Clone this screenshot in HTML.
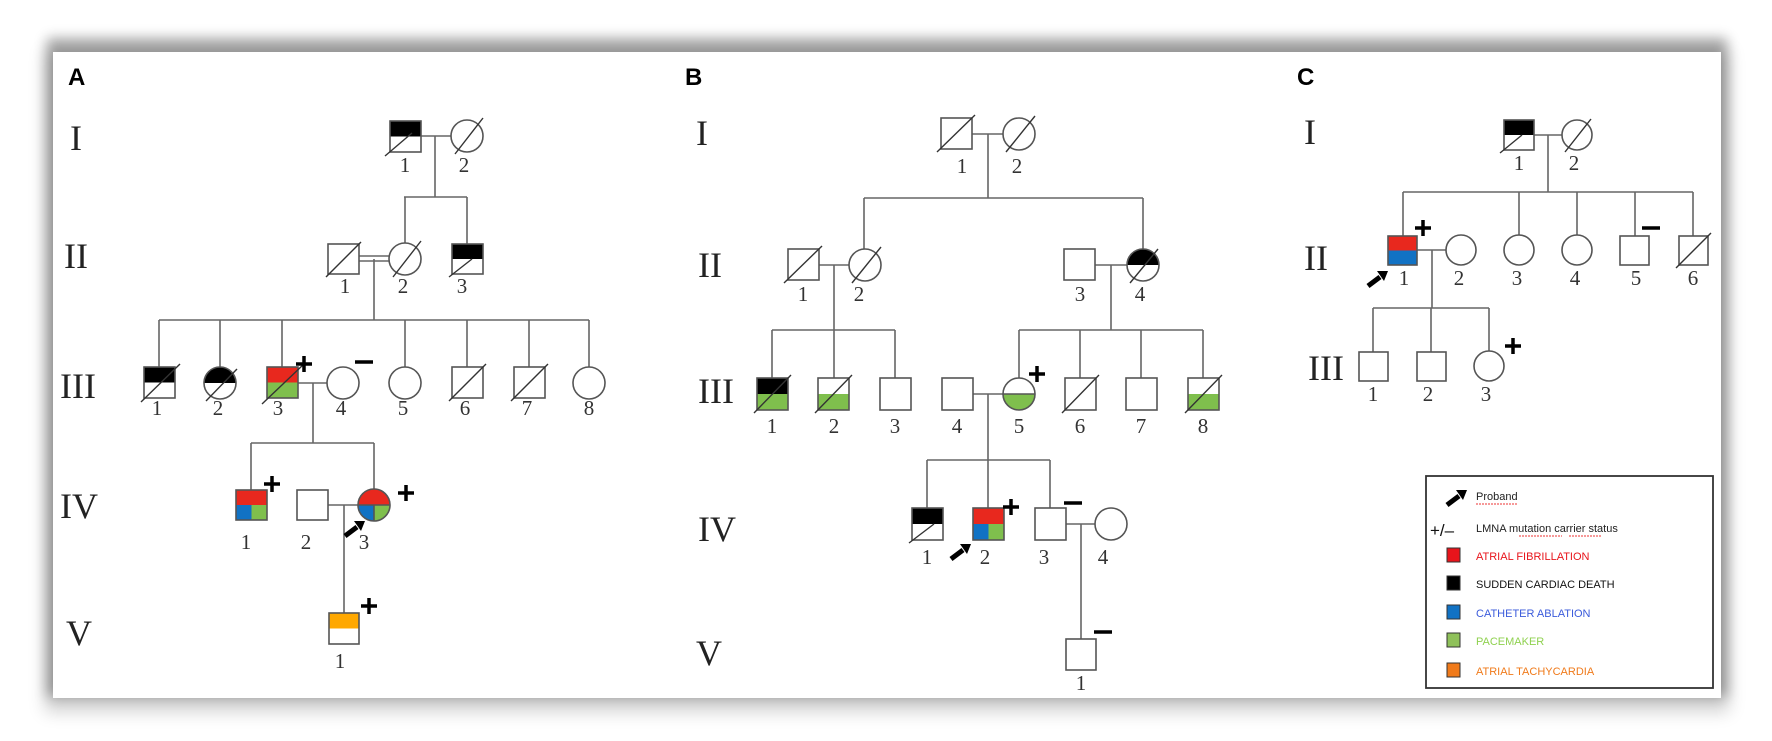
<!DOCTYPE html>
<html><head><meta charset="utf-8"><style>
html,body{margin:0;padding:0;background:#fff;width:1772px;height:741px;overflow:hidden}
#frame{position:absolute;left:53px;top:52px;width:1668px;height:646px;background:#fff;box-shadow:0 -8px 12px 6px rgba(0,0,0,.33),0 6px 16px 8px rgba(0,0,0,.18)}
svg{position:absolute;left:0;top:0}
.ln{stroke:#666;stroke-width:1.6;fill:none}
.sh{stroke:#555;stroke-width:1.6;fill:none}
.sl{stroke:#333;stroke-width:1.4}
.rn{font-family:"Liberation Serif",serif;font-size:36px;fill:#222}
.nm{font-family:"Liberation Serif",serif;font-size:21px;fill:#333;text-anchor:middle}
.pl{stroke:#000;stroke-width:3.5}
.lab{font-family:"Liberation Sans",sans-serif;font-weight:bold;font-size:24px}
.lg{font-family:"Liberation Sans",sans-serif;font-size:11px}
</style></head><body>
<div id="frame"></div>
<svg width="1772" height="741" viewBox="0 0 1772 741" xmlns="http://www.w3.org/2000/svg">
<defs>
<g id="pl"><line class="pl" x1="-8" y1="0" x2="8" y2="0"/><line class="pl" x1="0" y1="-8" x2="0" y2="8"/></g>
<g id="mi"><line class="pl" x1="-9" y1="0" x2="9" y2="0"/></g>
<g id="ar"><line x1="0" y1="0" x2="12" y2="-9" stroke="#000" stroke-width="5"/><polygon points="9,-15 20,-15 16,-5" fill="#000"/></g>
</defs>
<text class="lab" x="68" y="85">A</text>
<text class="lab" x="685" y="85">B</text>
<text class="lab" x="1297" y="85">C</text>

<!-- Panel A -->
<text class="rn" x="70" y="150">I</text>
<text class="rn" x="64" y="268">II</text>
<text class="rn" x="60" y="398">III</text>
<text class="rn" x="60" y="518">IV</text>
<text class="rn" x="66" y="645">V</text>
<g class="ln">
<line x1="421" y1="136" x2="451" y2="136"/><line x1="435" y1="136" x2="435" y2="197"/>
<line x1="404" y1="197" x2="467" y2="197"/><line x1="405" y1="197" x2="405" y2="243"/><line x1="467" y1="197" x2="467" y2="244"/>
<line x1="359" y1="256" x2="389" y2="256"/><line x1="359" y1="261" x2="389" y2="261"/>
<line x1="374" y1="259" x2="374" y2="320"/><line x1="159" y1="320" x2="589" y2="320"/>
<line x1="159" y1="320" x2="159" y2="367"/><line x1="220" y1="320" x2="220" y2="367"/><line x1="282" y1="320" x2="282" y2="367"/><line x1="405" y1="320" x2="405" y2="367"/><line x1="467" y1="320" x2="467" y2="367"/><line x1="529" y1="320" x2="529" y2="367"/><line x1="589" y1="320" x2="589" y2="367"/>
<line x1="298" y1="383" x2="327" y2="383"/><line x1="313" y1="383" x2="313" y2="443"/>
<line x1="251" y1="443" x2="374" y2="443"/><line x1="251" y1="443" x2="251" y2="490"/><line x1="374" y1="443" x2="374" y2="489"/>
<line x1="328" y1="505" x2="358" y2="505"/><line x1="344" y1="505" x2="344" y2="613"/>
</g>
<!-- I -->
<rect x="390" y="121" width="31" height="15.5" fill="#000"/><rect class="sh" x="390" y="121" width="31" height="31"/><line class="sl" x1="385" y1="156" x2="412" y2="133"/>
<circle class="sh" cx="467" cy="136" r="16"/><line class="sl" x1="455" y1="154" x2="483" y2="118"/>
<!-- II -->
<rect class="sh" x="328" y="244" width="31" height="30"/><line class="sl" x1="326" y1="277" x2="361" y2="242"/>
<circle class="sh" cx="405" cy="259" r="16"/><line class="sl" x1="393" y1="277" x2="421" y2="241"/>
<rect x="452" y="244" width="31" height="15" fill="#000"/><rect class="sh" x="452" y="244" width="31" height="30"/><line class="sl" x1="449" y1="277" x2="472" y2="259"/>
<!-- III -->
<rect x="144" y="367" width="31" height="15.5" fill="#000"/><rect class="sh" x="144" y="367" width="31" height="31"/><line class="sl" x1="141" y1="402" x2="180" y2="364"/>
<path d="M204,383 A16,16 0 0 1 236,383 Z" fill="#000"/><circle class="sh" cx="220" cy="383" r="16"/><line class="sl" x1="206" y1="401" x2="237" y2="369"/>
<rect x="267" y="367" width="31" height="15.5" fill="#e8281e"/><rect x="267" y="382.5" width="31" height="15.5" fill="#7fbf4d"/><rect class="sh" x="267" y="367" width="31" height="31"/><line class="sl" x1="262" y1="404" x2="304" y2="364"/>
<use href="#pl" x="304" y="364"/>
<circle class="sh" cx="343" cy="383" r="16"/><use href="#mi" x="364" y="362"/>
<circle class="sh" cx="405" cy="383" r="16"/>
<rect class="sh" x="452" y="367" width="31" height="31"/><line class="sl" x1="449" y1="401" x2="486" y2="364"/>
<rect class="sh" x="514" y="367" width="31" height="31"/><line class="sl" x1="511" y1="401" x2="548" y2="364"/>
<circle class="sh" cx="589" cy="383" r="16"/>
<!-- IV -->
<rect x="236" y="490" width="31" height="15" fill="#e8281e"/><rect x="236" y="505" width="15.5" height="15" fill="#1172c4"/><rect x="251.5" y="505" width="15.5" height="15" fill="#7fbf4d"/><rect class="sh" x="236" y="490" width="31" height="30"/>
<use href="#pl" x="272" y="484"/>
<rect class="sh" x="297" y="490" width="31" height="30"/>
<path d="M358,505 A16,16 0 0 1 390,505 Z" fill="#e8281e"/><path d="M374,505 L358,505 A16,16 0 0 0 374,521 Z" fill="#1172c4"/><path d="M374,505 L374,521 A16,16 0 0 0 390,505 Z" fill="#7fbf4d"/>
<circle class="sh" cx="374" cy="505" r="16"/><line class="sh" x1="358" y1="505" x2="390" y2="505"/><line class="sh" x1="374" y1="505" x2="374" y2="521"/>
<use href="#pl" x="406" y="493"/>
<use href="#ar" x="345" y="536"/>
<!-- V -->
<rect x="329" y="613" width="30" height="15.5" fill="#ffa800"/><rect class="sh" x="329" y="613" width="30" height="31"/><use href="#pl" x="369" y="606"/>
<g class="nm">
<text x="405" y="172">1</text><text x="464" y="172">2</text>
<text x="345" y="293">1</text><text x="403" y="293">2</text><text x="462" y="293">3</text>
<text x="157" y="415">1</text><text x="218" y="415">2</text><text x="278" y="415">3</text><text x="341" y="415">4</text><text x="403" y="415">5</text><text x="465" y="415">6</text><text x="527" y="415">7</text><text x="589" y="415">8</text>
<text x="246" y="549">1</text><text x="306" y="549">2</text><text x="364" y="549">3</text>
<text x="340" y="668">1</text>
</g>

<!-- Panel B -->
<text class="rn" x="696" y="145">I</text>
<text class="rn" x="698" y="277">II</text>
<text class="rn" x="698" y="403">III</text>
<text class="rn" x="698" y="541">IV</text>
<text class="rn" x="696" y="665">V</text>
<g class="ln">
<line x1="972" y1="134" x2="1003" y2="134"/><line x1="988" y1="134" x2="988" y2="198"/>
<line x1="864" y1="198" x2="1143" y2="198"/><line x1="864" y1="198" x2="864" y2="249"/><line x1="1143" y1="198" x2="1143" y2="249"/>
<line x1="819" y1="265" x2="849" y2="265"/><line x1="834" y1="265" x2="834" y2="330"/>
<line x1="772" y1="330" x2="895" y2="330"/><line x1="772" y1="330" x2="772" y2="378"/><line x1="834" y1="330" x2="834" y2="378"/><line x1="895" y1="330" x2="895" y2="378"/>
<line x1="1095" y1="265" x2="1127" y2="265"/><line x1="1111" y1="265" x2="1111" y2="330"/>
<line x1="1019" y1="330" x2="1203" y2="330"/><line x1="1019" y1="330" x2="1019" y2="378"/><line x1="1080" y1="330" x2="1080" y2="378"/><line x1="1141" y1="330" x2="1141" y2="378"/><line x1="1203" y1="330" x2="1203" y2="378"/>
<line x1="973" y1="394" x2="1003" y2="394"/><line x1="988" y1="394" x2="988" y2="460"/>
<line x1="927" y1="460" x2="1050" y2="460"/><line x1="927" y1="460" x2="927" y2="508"/><line x1="988" y1="460" x2="988" y2="508"/><line x1="1050" y1="460" x2="1050" y2="508"/>
<line x1="1066" y1="524" x2="1095" y2="524"/><line x1="1081" y1="524" x2="1081" y2="639"/>
</g>
<rect class="sh" x="941" y="118" width="31" height="31"/><line class="sl" x1="937" y1="152" x2="975" y2="115"/>
<circle class="sh" cx="1019" cy="134" r="16"/><line class="sl" x1="1006" y1="152" x2="1035" y2="116"/>
<rect class="sh" x="788" y="249" width="31" height="31"/><line class="sl" x1="784" y1="283" x2="822" y2="246"/>
<circle class="sh" cx="865" cy="265" r="16"/><line class="sl" x1="852" y1="283" x2="881" y2="247"/>
<rect class="sh" x="1064" y="249" width="31" height="31"/>
<path d="M1127,265 A16,16 0 0 1 1159,265 Z" fill="#000"/><circle class="sh" cx="1143" cy="265" r="16"/><line class="sl" x1="1130" y1="283" x2="1158" y2="249"/>
<!-- III -->
<rect x="757" y="378" width="31" height="16" fill="#000"/><rect x="757" y="394" width="31" height="16" fill="#7fbf4d"/><rect class="sh" x="757" y="378" width="31" height="32"/><line class="sl" x1="754" y1="413" x2="791" y2="375"/>
<rect x="818" y="394" width="31" height="16" fill="#7fbf4d"/><rect class="sh" x="818" y="378" width="31" height="32"/><line class="sl" x1="815" y1="413" x2="852" y2="375"/>
<rect class="sh" x="880" y="378" width="31" height="32"/>
<rect class="sh" x="942" y="378" width="31" height="32"/>
<path d="M1003,394 A16,16 0 0 0 1035,394 Z" fill="#7fbf4d"/><circle class="sh" cx="1019" cy="394" r="16"/><line class="sh" x1="1003" y1="394" x2="1035" y2="394"/><use href="#pl" x="1037" y="374"/>
<rect class="sh" x="1065" y="378" width="31" height="32"/><line class="sl" x1="1062" y1="413" x2="1099" y2="375"/>
<rect class="sh" x="1126" y="378" width="31" height="32"/>
<rect x="1188" y="394" width="31" height="16" fill="#7fbf4d"/><rect class="sh" x="1188" y="378" width="31" height="32"/><line class="sl" x1="1185" y1="413" x2="1222" y2="375"/>
<!-- IV -->
<rect x="912" y="508" width="31" height="16" fill="#000"/><rect class="sh" x="912" y="508" width="31" height="32"/><line class="sl" x1="909" y1="543" x2="934" y2="524"/>
<rect x="973" y="508" width="31" height="16" fill="#e8281e"/><rect x="973" y="524" width="15.5" height="16" fill="#1172c4"/><rect x="988.5" y="524" width="15.5" height="16" fill="#7fbf4d"/><rect class="sh" x="973" y="508" width="31" height="32"/>
<use href="#pl" x="1011" y="507"/><use href="#ar" x="951" y="559"/>
<rect class="sh" x="1035" y="508" width="31" height="32"/><use href="#mi" x="1073" y="503"/>
<circle class="sh" cx="1111" cy="524" r="16"/>
<rect class="sh" x="1066" y="639" width="30" height="31"/><use href="#mi" x="1103" y="632"/>
<g class="nm">
<text x="962" y="173">1</text><text x="1017" y="173">2</text>
<text x="803" y="301">1</text><text x="859" y="301">2</text><text x="1080" y="301">3</text><text x="1140" y="301">4</text>
<text x="772" y="433">1</text><text x="834" y="433">2</text><text x="895" y="433">3</text><text x="957" y="433">4</text><text x="1019" y="433">5</text><text x="1080" y="433">6</text><text x="1141" y="433">7</text><text x="1203" y="433">8</text>
<text x="927" y="564">1</text><text x="985" y="564">2</text><text x="1044" y="564">3</text><text x="1103" y="564">4</text>
<text x="1081" y="690">1</text>
</g>

<!-- Panel C -->
<text class="rn" x="1304" y="144">I</text>
<text class="rn" x="1304" y="270">II</text>
<text class="rn" x="1308" y="380">III</text>
<g class="ln">
<line x1="1534" y1="135" x2="1562" y2="135"/><line x1="1548" y1="135" x2="1548" y2="192"/>
<line x1="1403" y1="192" x2="1693" y2="192"/>
<line x1="1403" y1="192" x2="1403" y2="236"/><line x1="1519" y1="192" x2="1519" y2="235"/><line x1="1577" y1="192" x2="1577" y2="235"/><line x1="1635" y1="192" x2="1635" y2="236"/><line x1="1693" y1="192" x2="1693" y2="236"/>
<line x1="1417" y1="250" x2="1446" y2="250"/><line x1="1432" y1="250" x2="1432" y2="308"/>
<line x1="1373" y1="308" x2="1489" y2="308"/><line x1="1373" y1="308" x2="1373" y2="352"/><line x1="1431" y1="308" x2="1431" y2="352"/><line x1="1489" y1="308" x2="1489" y2="351"/>
</g>
<rect x="1504" y="120" width="30" height="15" fill="#000"/><rect class="sh" x="1504" y="120" width="30" height="30"/><line class="sl" x1="1500" y1="153" x2="1522" y2="135"/>
<circle class="sh" cx="1577" cy="135" r="15"/><line class="sl" x1="1565" y1="152" x2="1591" y2="119"/>
<rect x="1388" y="236" width="29" height="14.5" fill="#e8281e"/><rect x="1388" y="250.5" width="29" height="14.5" fill="#1172c4"/><rect class="sh" x="1388" y="236" width="29" height="29"/>
<use href="#pl" x="1423" y="228"/><use href="#ar" x="1368" y="286"/>
<circle class="sh" cx="1461" cy="250" r="15"/>
<circle class="sh" cx="1519" cy="250" r="15"/>
<circle class="sh" cx="1577" cy="250" r="15"/>
<rect class="sh" x="1620" y="236" width="29" height="29"/><use href="#mi" x="1651" y="228"/>
<rect class="sh" x="1679" y="236" width="29" height="29"/><line class="sl" x1="1676" y1="268" x2="1711" y2="233"/>
<rect class="sh" x="1359" y="352" width="29" height="29"/>
<rect class="sh" x="1417" y="352" width="29" height="29"/>
<circle class="sh" cx="1489" cy="366" r="15"/><use href="#pl" x="1513" y="346"/>
<g class="nm">
<text x="1519" y="170">1</text><text x="1574" y="170">2</text>
<text x="1404" y="285">1</text><text x="1459" y="285">2</text><text x="1517" y="285">3</text><text x="1575" y="285">4</text><text x="1636" y="285">5</text><text x="1693" y="285">6</text>
<text x="1373" y="401">1</text><text x="1428" y="401">2</text><text x="1486" y="401">3</text>
</g>

<!-- Legend -->
<rect x="1426" y="476" width="287" height="212" fill="#fff" stroke="#333" stroke-width="1.8"/>
<use href="#ar" x="1447" y="505"/>
<text class="lg" x="1476" y="500" fill="#222">Proband</text>
<line x1="1476" y1="504" x2="1517" y2="504" stroke="#e33" stroke-width="1" stroke-dasharray="2,1"/>
<text x="1430" y="536" font-family="Liberation Sans,sans-serif" font-size="17" fill="#111">+/–</text>
<text class="lg" x="1476" y="532" fill="#222">LMNA mutation  carrier  status</text>
<line x1="1519" y1="536" x2="1562" y2="536" stroke="#e33" stroke-width="1" stroke-dasharray="2,1"/>
<line x1="1569" y1="536" x2="1601" y2="536" stroke="#e33" stroke-width="1" stroke-dasharray="2,1"/>
<rect x="1447" y="548" width="13" height="14" fill="#e8141b" stroke="#333"/><text class="lg" x="1476" y="560" fill="#e8141b">ATRIAL FIBRILLATION</text>
<rect x="1447" y="576" width="13" height="14" fill="#000" stroke="#333"/><text class="lg" x="1476" y="588" fill="#111">SUDDEN  CARDIAC  DEATH</text>
<rect x="1447" y="605" width="13" height="14" fill="#1172c4" stroke="#333"/><text class="lg" x="1476" y="617" fill="#3b5bdb">CATHETER  ABLATION</text>
<rect x="1447" y="633" width="13" height="14" fill="#8fc15a" stroke="#333"/><text class="lg" x="1476" y="645" fill="#8fd14f">PACEMAKER</text>
<rect x="1447" y="663" width="13" height="14" fill="#f07a1a" stroke="#333"/><text class="lg" x="1476" y="675" fill="#f07a1a">ATRIAL TACHYCARDIA</text>
</svg>
</body></html>
